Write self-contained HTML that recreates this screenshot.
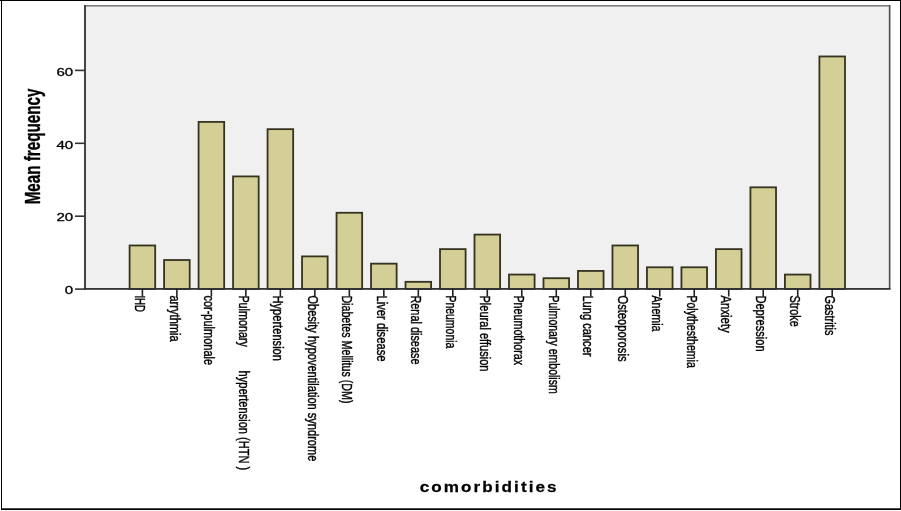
<!DOCTYPE html><html><head><meta charset="utf-8"><style>html,body{margin:0;padding:0;background:#fff;width:901px;height:511px;overflow:hidden}svg{display:block;filter:blur(0.5px)}text{font-family:"Liberation Sans",sans-serif;fill:#000}</style></head><body>
<svg width="901" height="511" viewBox="0 0 901 511">
<rect x="0" y="0" width="901" height="511" fill="#fff"/>
<rect x="85" y="6" width="804.5" height="283" fill="#f0f0f0"/>
<rect x="84" y="5" width="806" height="1.6" fill="#7c7c7c"/>
<rect x="888.8" y="5" width="1.7" height="284" fill="#555"/>
<rect x="84" y="5" width="2" height="285" fill="#444"/>
<rect x="129.60" y="245.48" width="25.60" height="43.62" fill="#d3cf97" stroke="#35331f" stroke-width="1.8"/>
<rect x="164.09" y="260.02" width="25.60" height="29.08" fill="#d3cf97" stroke="#35331f" stroke-width="1.8"/>
<rect x="198.58" y="121.89" width="25.60" height="167.21" fill="#d3cf97" stroke="#35331f" stroke-width="1.8"/>
<rect x="233.07" y="176.42" width="25.60" height="112.69" fill="#d3cf97" stroke="#35331f" stroke-width="1.8"/>
<rect x="267.56" y="129.16" width="25.60" height="159.94" fill="#d3cf97" stroke="#35331f" stroke-width="1.8"/>
<rect x="302.05" y="256.39" width="25.60" height="32.71" fill="#d3cf97" stroke="#35331f" stroke-width="1.8"/>
<rect x="336.54" y="212.77" width="25.60" height="76.33" fill="#d3cf97" stroke="#35331f" stroke-width="1.8"/>
<rect x="371.03" y="263.66" width="25.60" height="25.44" fill="#d3cf97" stroke="#35331f" stroke-width="1.8"/>
<rect x="405.52" y="281.83" width="25.60" height="7.27" fill="#d3cf97" stroke="#35331f" stroke-width="1.8"/>
<rect x="440.01" y="249.12" width="25.60" height="39.99" fill="#d3cf97" stroke="#35331f" stroke-width="1.8"/>
<rect x="474.50" y="234.58" width="25.60" height="54.53" fill="#d3cf97" stroke="#35331f" stroke-width="1.8"/>
<rect x="508.99" y="274.56" width="25.60" height="14.54" fill="#d3cf97" stroke="#35331f" stroke-width="1.8"/>
<rect x="543.48" y="278.20" width="25.60" height="10.90" fill="#d3cf97" stroke="#35331f" stroke-width="1.8"/>
<rect x="577.97" y="270.93" width="25.60" height="18.18" fill="#d3cf97" stroke="#35331f" stroke-width="1.8"/>
<rect x="612.46" y="245.48" width="25.60" height="43.62" fill="#d3cf97" stroke="#35331f" stroke-width="1.8"/>
<rect x="646.95" y="267.29" width="25.60" height="21.81" fill="#d3cf97" stroke="#35331f" stroke-width="1.8"/>
<rect x="681.44" y="267.29" width="25.60" height="21.81" fill="#d3cf97" stroke="#35331f" stroke-width="1.8"/>
<rect x="715.93" y="249.12" width="25.60" height="39.99" fill="#d3cf97" stroke="#35331f" stroke-width="1.8"/>
<rect x="750.42" y="187.32" width="25.60" height="101.78" fill="#d3cf97" stroke="#35331f" stroke-width="1.8"/>
<rect x="784.91" y="274.56" width="25.60" height="14.54" fill="#d3cf97" stroke="#35331f" stroke-width="1.8"/>
<rect x="819.40" y="56.46" width="25.60" height="232.64" fill="#d3cf97" stroke="#35331f" stroke-width="1.8"/>
<rect x="84" y="288" width="806.5" height="1.8" fill="#333"/>
<rect x="141.60" y="289" width="1.6" height="7.5" fill="#222"/>
<rect x="176.09" y="289" width="1.6" height="7.5" fill="#222"/>
<rect x="210.58" y="289" width="1.6" height="7.5" fill="#222"/>
<rect x="245.07" y="289" width="1.6" height="7.5" fill="#222"/>
<rect x="279.56" y="289" width="1.6" height="7.5" fill="#222"/>
<rect x="314.05" y="289" width="1.6" height="7.5" fill="#222"/>
<rect x="348.54" y="289" width="1.6" height="7.5" fill="#222"/>
<rect x="383.03" y="289" width="1.6" height="7.5" fill="#222"/>
<rect x="417.52" y="289" width="1.6" height="7.5" fill="#222"/>
<rect x="452.01" y="289" width="1.6" height="7.5" fill="#222"/>
<rect x="486.50" y="289" width="1.6" height="7.5" fill="#222"/>
<rect x="520.99" y="289" width="1.6" height="7.5" fill="#222"/>
<rect x="555.48" y="289" width="1.6" height="7.5" fill="#222"/>
<rect x="589.97" y="289" width="1.6" height="7.5" fill="#222"/>
<rect x="624.46" y="289" width="1.6" height="7.5" fill="#222"/>
<rect x="658.95" y="289" width="1.6" height="7.5" fill="#222"/>
<rect x="693.44" y="289" width="1.6" height="7.5" fill="#222"/>
<rect x="727.93" y="289" width="1.6" height="7.5" fill="#222"/>
<rect x="762.42" y="289" width="1.6" height="7.5" fill="#222"/>
<rect x="796.91" y="289" width="1.6" height="7.5" fill="#222"/>
<rect x="831.40" y="289" width="1.6" height="7.5" fill="#222"/>
<rect x="75" y="288.30" width="10" height="1.6" fill="#333"/>
<g transform="translate(73.2,294.30) scale(1.4,1)"><text x="0" y="0" font-size="10.8" text-anchor="end" stroke="#000" stroke-width="0.3">0</text></g>
<rect x="75" y="215.40" width="10" height="1.6" fill="#333"/>
<g transform="translate(73.2,221.40) scale(1.4,1)"><text x="0" y="0" font-size="10.8" text-anchor="end" stroke="#000" stroke-width="0.3">20</text></g>
<rect x="75" y="142.50" width="10" height="1.6" fill="#333"/>
<g transform="translate(73.2,148.50) scale(1.4,1)"><text x="0" y="0" font-size="10.8" text-anchor="end" stroke="#000" stroke-width="0.3">40</text></g>
<rect x="75" y="69.60" width="10" height="1.6" fill="#333"/>
<g transform="translate(73.2,75.60) scale(1.4,1)"><text x="0" y="0" font-size="10.8" text-anchor="end" stroke="#000" stroke-width="0.3">60</text></g>
<g transform="translate(135.10,295.40) scale(1.33,1) rotate(90)"><text id="L0" x="0" y="0" font-size="11" textLength="16.49" lengthAdjust="spacingAndGlyphs" stroke="#000" stroke-width="0.3">IHD</text></g>
<g transform="translate(169.59,295.40) scale(1.33,1) rotate(90)"><text id="L1" x="0" y="0" font-size="11" textLength="46.34" lengthAdjust="spacingAndGlyphs" stroke="#000" stroke-width="0.3">arrythmia</text></g>
<g transform="translate(204.08,295.40) scale(1.33,1) rotate(90)"><text id="L2" x="0" y="0" font-size="11" textLength="69.68" lengthAdjust="spacingAndGlyphs" stroke="#000" stroke-width="0.3">cor-pulmonale</text></g>
<g transform="translate(238.57,295.40) scale(1.33,1) rotate(90)"><text id="L3" x="0" y="0" font-size="11" textLength="51.55" lengthAdjust="spacingAndGlyphs" stroke="#000" stroke-width="0.3">Pulmonary</text></g>
<g transform="translate(273.06,295.40) scale(1.33,1) rotate(90)"><text id="L4" x="0" y="0" font-size="11" textLength="65.60" lengthAdjust="spacingAndGlyphs" stroke="#000" stroke-width="0.3">Hypertension</text></g>
<g transform="translate(307.55,295.40) scale(1.33,1) rotate(90)"><text id="L5" x="0" y="0" font-size="11" textLength="165.93" lengthAdjust="spacingAndGlyphs" stroke="#000" stroke-width="0.3">Obesity hypoventilation syndrome</text></g>
<g transform="translate(342.04,295.40) scale(1.33,1) rotate(90)"><text id="L6" x="0" y="0" font-size="11" textLength="108.06" lengthAdjust="spacingAndGlyphs" stroke="#000" stroke-width="0.3">Diabetes Mellitus (DM)</text></g>
<g transform="translate(376.53,295.40) scale(1.33,1) rotate(90)"><text id="L7" x="0" y="0" font-size="11" textLength="66.21" lengthAdjust="spacingAndGlyphs" stroke="#000" stroke-width="0.3">Liver disease</text></g>
<g transform="translate(411.02,295.40) scale(1.33,1) rotate(90)"><text id="L8" x="0" y="0" font-size="11" textLength="69.08" lengthAdjust="spacingAndGlyphs" stroke="#000" stroke-width="0.3">Renal disease</text></g>
<g transform="translate(445.51,295.40) scale(1.33,1) rotate(90)"><text id="L9" x="0" y="0" font-size="11" textLength="52.99" lengthAdjust="spacingAndGlyphs" stroke="#000" stroke-width="0.3">Pneumonia</text></g>
<g transform="translate(480.00,295.40) scale(1.33,1) rotate(90)"><text id="L10" x="0" y="0" font-size="11" textLength="76.11" lengthAdjust="spacingAndGlyphs" stroke="#000" stroke-width="0.3">Pleural effusion</text></g>
<g transform="translate(514.49,295.40) scale(1.33,1) rotate(90)"><text id="L11" x="0" y="0" font-size="11" textLength="69.81" lengthAdjust="spacingAndGlyphs" stroke="#000" stroke-width="0.3">Pneumothorax</text></g>
<g transform="translate(548.98,295.40) scale(1.33,1) rotate(90)"><text id="L12" x="0" y="0" font-size="11" textLength="98.33" lengthAdjust="spacingAndGlyphs" stroke="#000" stroke-width="0.3">Pulmonary embolism</text></g>
<g transform="translate(583.47,295.40) scale(1.33,1) rotate(90)"><text id="L13" x="0" y="0" font-size="11" textLength="61.14" lengthAdjust="spacingAndGlyphs" stroke="#000" stroke-width="0.3">Lung cancer</text></g>
<g transform="translate(617.96,295.40) scale(1.33,1) rotate(90)"><text id="L14" x="0" y="0" font-size="11" textLength="66.11" lengthAdjust="spacingAndGlyphs" stroke="#000" stroke-width="0.3">Osteoporosis</text></g>
<g transform="translate(652.45,295.40) scale(1.33,1) rotate(90)"><text id="L15" x="0" y="0" font-size="11" textLength="36.07" lengthAdjust="spacingAndGlyphs" stroke="#000" stroke-width="0.3">Anemia</text></g>
<g transform="translate(686.94,295.40) scale(1.33,1) rotate(90)"><text id="L16" x="0" y="0" font-size="11" textLength="72.46" lengthAdjust="spacingAndGlyphs" stroke="#000" stroke-width="0.3">Polythesthemia</text></g>
<g transform="translate(721.43,295.40) scale(1.33,1) rotate(90)"><text id="L17" x="0" y="0" font-size="11" textLength="37.38" lengthAdjust="spacingAndGlyphs" stroke="#000" stroke-width="0.3">Anxiety</text></g>
<g transform="translate(755.92,295.40) scale(1.33,1) rotate(90)"><text id="L18" x="0" y="0" font-size="11" textLength="56.24" lengthAdjust="spacingAndGlyphs" stroke="#000" stroke-width="0.3">Depression</text></g>
<g transform="translate(790.41,295.40) scale(1.33,1) rotate(90)"><text id="L19" x="0" y="0" font-size="11" textLength="31.38" lengthAdjust="spacingAndGlyphs" stroke="#000" stroke-width="0.3">Stroke</text></g>
<g transform="translate(824.90,295.40) scale(1.33,1) rotate(90)"><text id="L20" x="0" y="0" font-size="11" textLength="40.13" lengthAdjust="spacingAndGlyphs" stroke="#000" stroke-width="0.3">Gastritis</text></g>
<g transform="translate(238.57,370.60) scale(1.33,1) rotate(90)"><text id="L21" x="0" y="0" font-size="11" textLength="99.61" lengthAdjust="spacingAndGlyphs" stroke="#000" stroke-width="0.3">hypertension (HTN )</text></g>
<g transform="translate(40,204.3) scale(1.44,1) rotate(-90)"><text id="YT" x="0" y="0" font-size="15.2" font-weight="bold" stroke="#000" stroke-width="0.25">Mean frequency</text></g>
<g transform="translate(419.8,492.2) scale(1.14,1)"><text id="XT" x="0" y="0" font-size="15" font-weight="bold" letter-spacing="1.8" stroke="#000" stroke-width="0.25">comorbidities</text></g>
<rect x="0" y="0" width="901" height="1" fill="#000"/>
<rect x="1" y="0" width="1" height="510" fill="#000"/>
<rect x="900" y="0" width="1" height="510" fill="#000"/>
<rect x="1" y="508.3" width="900" height="1.7" fill="#000"/>
</svg></body></html>
